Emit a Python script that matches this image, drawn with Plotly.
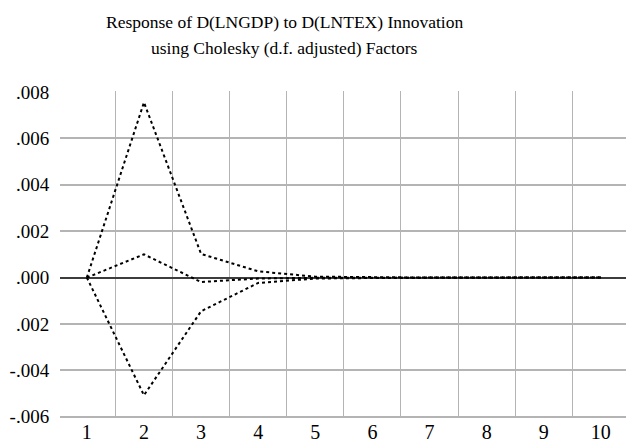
import plotly.graph_objects as go

periods = [1, 2, 3, 4, 5, 6, 7, 8, 9, 10]
response = [0.0, 0.00100, -0.00019, -0.00004, -0.00001, 0.0, 0.0, 0.0, 0.0, 0.0]
upper = [0.0, 0.00755, 0.00102, 0.00027, 0.00004, 0.00001, 0.0, 0.0, 0.0, 0.0]
lower = [0.0, -0.00507, -0.00145, -0.00023, -0.00004, -0.00001, 0.0, 0.0, 0.0, 0.0]

y_tickvals = [-0.006, -0.004, -0.002, 0.0, 0.002, 0.004, 0.006, 0.008]
y_ticktext = ["-.006", "-.004", ".002", ".000", ".002", ".004", ".006", ".008"]

title_line1 = "Response of D(LNGDP) to D(LNTEX) Innovation"
title_line2 = "using Cholesky (d.f. adjusted) Factors"

font_family = "Liberation Serif"
grid_color = "#b4b4b4"

fig = go.Figure()
for series in (upper, response, lower):
    fig.add_trace(go.Scatter(
        x=periods, y=series, mode="lines",
        line=dict(color="black", width=2, dash="dot"),
        showlegend=False, hoverinfo="skip",
    ))

fig.update_layout(
    width=626, height=443,
    margin=dict(l=60, r=0, t=91, b=25, autoexpand=False),
    paper_bgcolor="white", plot_bgcolor="white",
    font=dict(family=font_family, size=18, color="black"),
    xaxis=dict(
        range=[0.53, 10.44], automargin=False,
        tickmode="array", tickvals=periods, ticktext=[str(p) for p in periods],
        showgrid=False, zeroline=False, showline=False,
        ticks="", ticklen=0,
        minor=dict(tick0=0.5, dtick=1, showgrid=True, gridcolor=grid_color, gridwidth=1),
        tickfont=dict(family=font_family, size=20),
    ),
    yaxis=dict(
        range=[-0.00605, 0.00804], automargin=False,
        tickmode="array", tickvals=y_tickvals, ticktext=y_ticktext,
        showgrid=True, gridcolor=grid_color, gridwidth=2,
        zeroline=True, zerolinecolor="#3c3c3c", zerolinewidth=1.5,
        showline=False,
        ticks="outside", ticklen=6, tickcolor="rgba(0,0,0,0)",
        tickfont=dict(family=font_family, size=19),
    ),
    annotations=[
        dict(text=title_line1, xref="paper", yref="paper", x=0.3975, y=1.212,
             xanchor="center", yanchor="middle", showarrow=False,
             font=dict(family=font_family, size=17.5)),
        dict(text=title_line2, xref="paper", yref="paper", x=0.3975, y=1.132,
             xanchor="center", yanchor="middle", showarrow=False,
             font=dict(family=font_family, size=17.5)),
    ],
)

fig.write_html(
    "out.html",
    config={"displayModeBar": False},
    post_script="document.body.style.margin='0';document.body.style.overflow='hidden';",
)
